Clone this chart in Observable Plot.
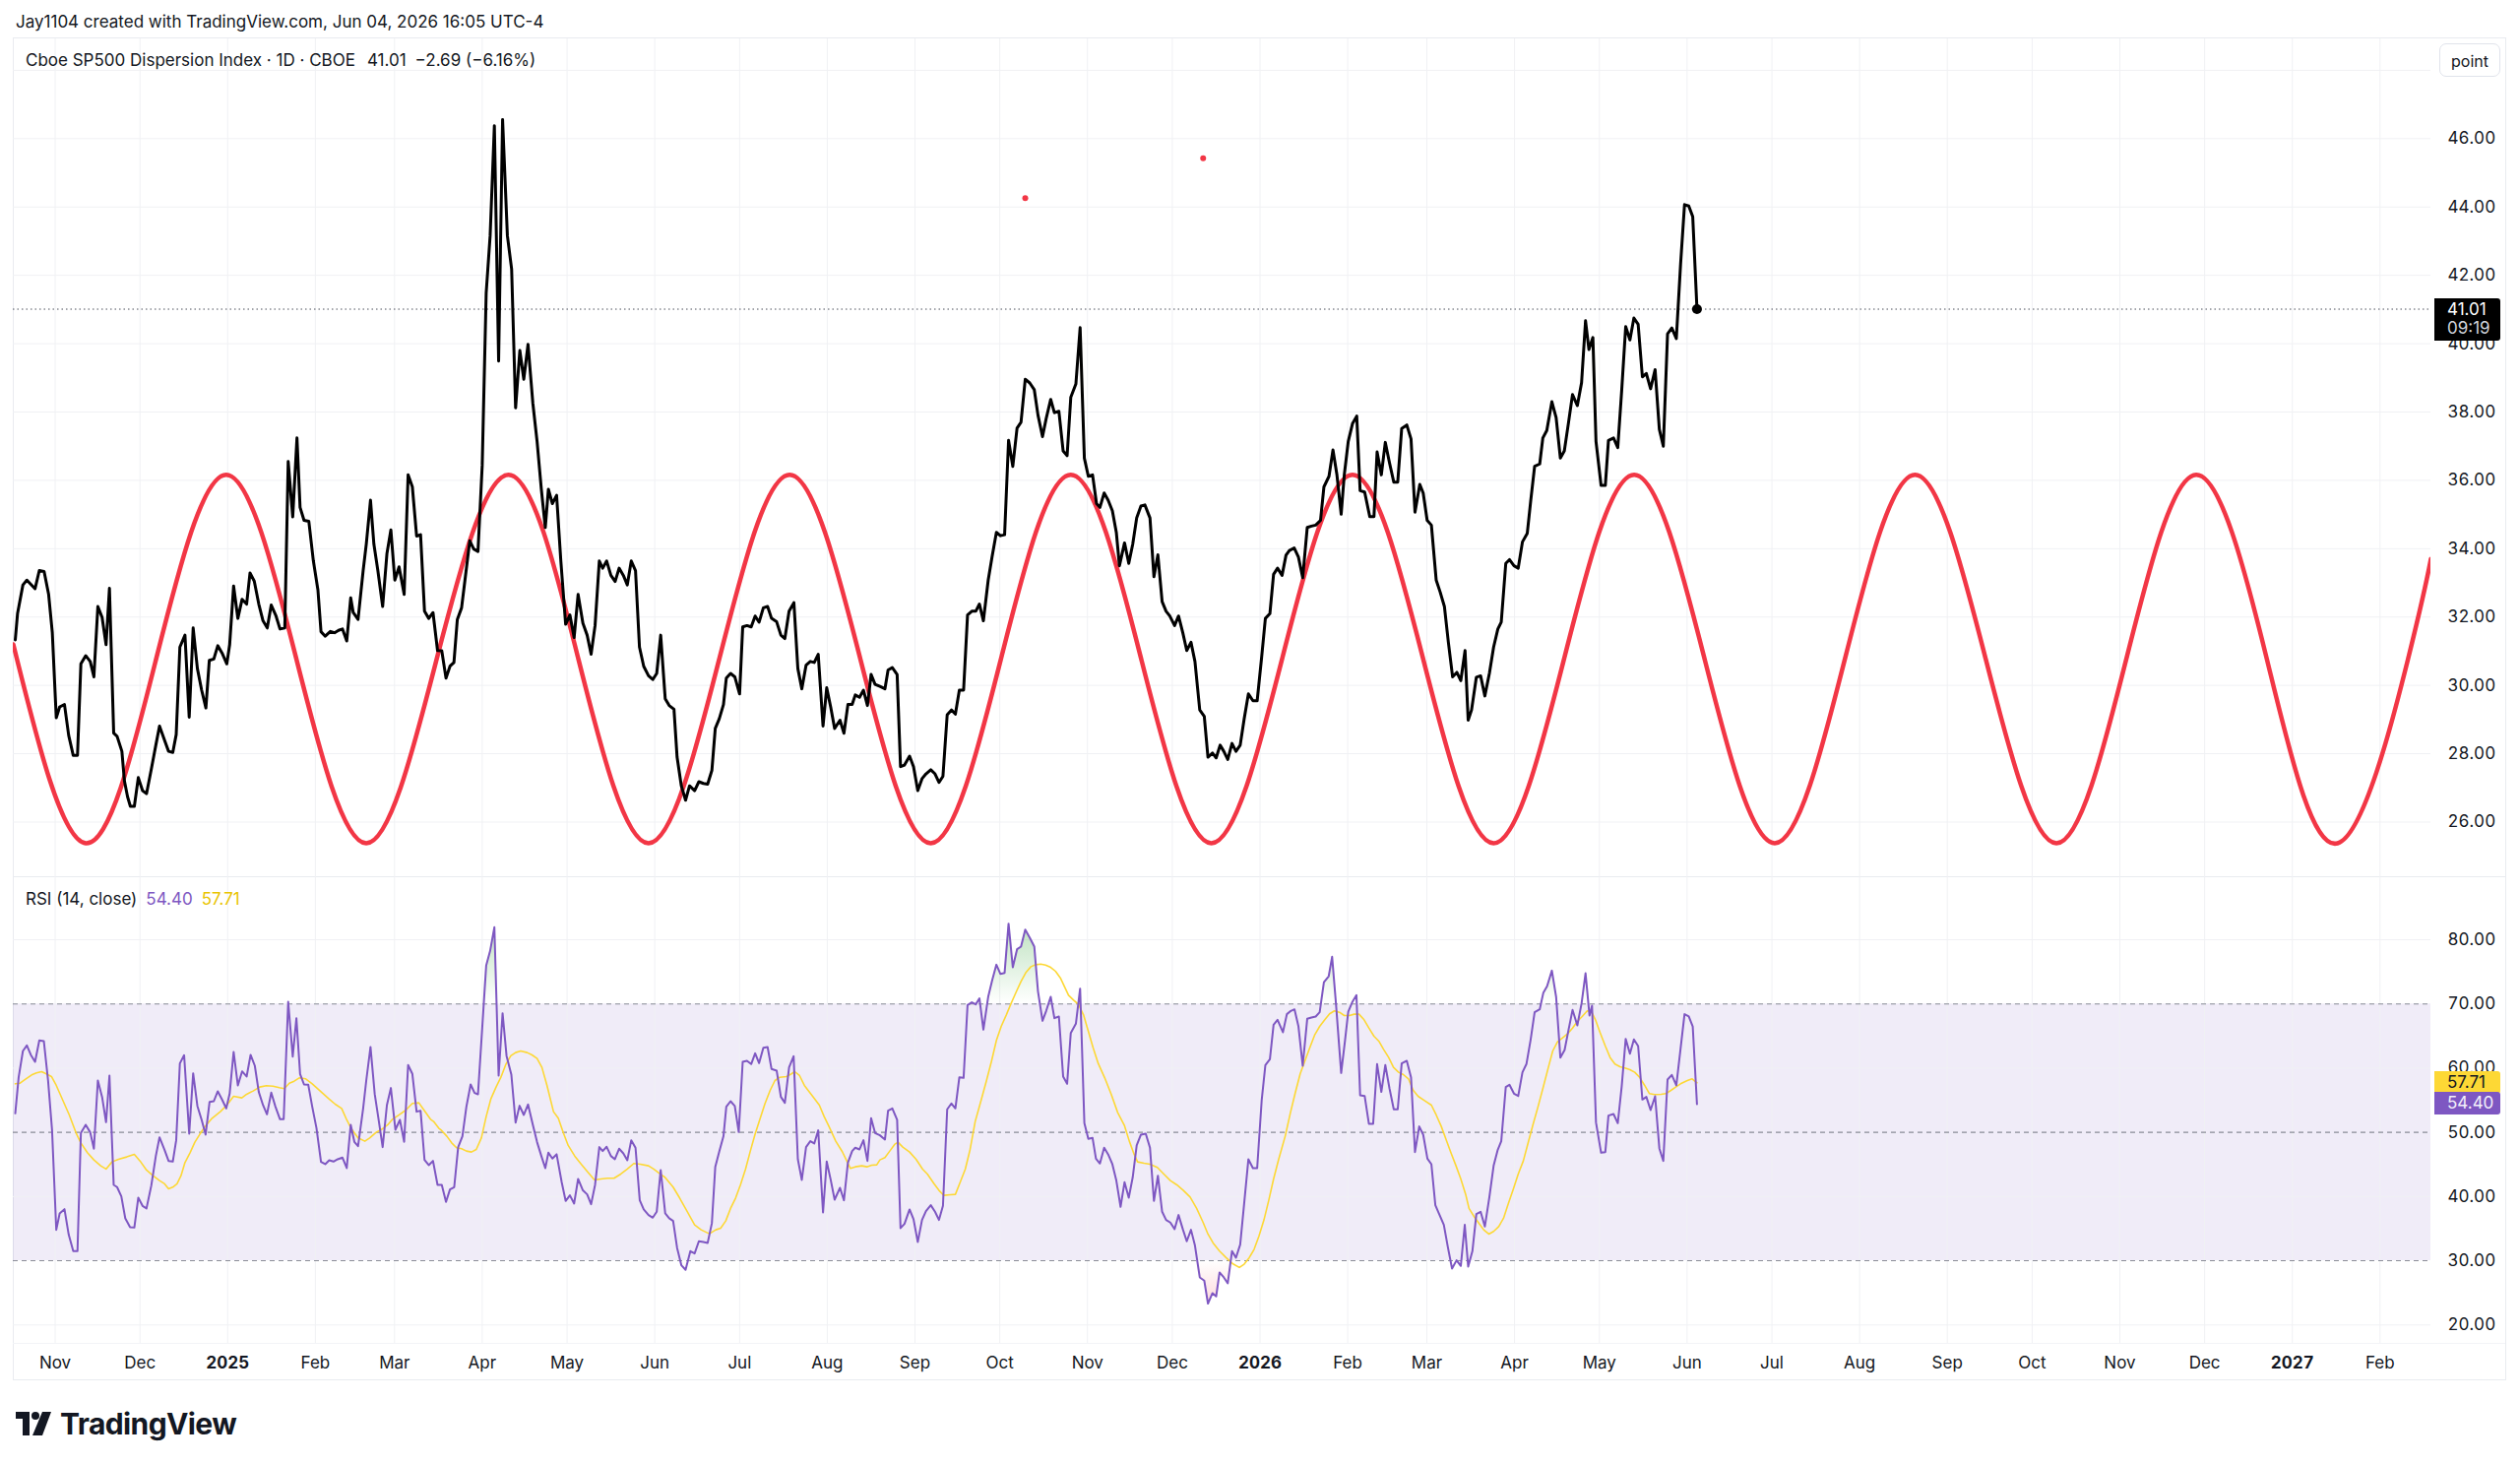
<!DOCTYPE html>
<html>
<head>
<meta charset="utf-8">
<script src="https://cdn.jsdelivr.net/npm/d3@7"></script>
<script src="https://cdn.jsdelivr.net/npm/@observablehq/plot@0.6"></script>
<style>
html, body { margin: 0; padding: 0; background: #ffffff; }
body { width: 2560px; height: 1487px; position: relative; overflow: hidden;
       font-family: Inter, Roboto, "Noto Sans", sans-serif; color: #131722; }
.abs { position: absolute; }
#header { left: 16px; top: 9px; font-size: 17px; line-height: 26px; white-space: nowrap; }
#frame { left: 13px; top: 38px; width: 2531px; height: 1362px; border: 1px solid #e9ebf0; box-sizing: content-box; }
.sep { position: absolute; background: #e9ebf0; }
#legend { left: 26px; top: 48px; font-size: 17px; line-height: 26px; white-space: nowrap; }
#legend .v { margin-left: 9px; }
#rsiLegend { left: 26px; top: 900px; font-size: 17px; line-height: 26px; white-space: nowrap; }
#rsiLegend .v { margin-left: 9px; }
#pointBtn { left: 2478px; top: 44px; width: 62px; height: 34px; border: 1px solid #e0e3eb; border-radius: 7px;
            font-size: 16px; line-height: 34px; text-align: center; background: #fff; box-sizing: border-box; }
.box { position: absolute; left: 2473px; width: 67px; font-size: 17px; padding-left: 13px; box-sizing: border-box;
       border-radius: 0 3px 3px 0; }
#logo { left: 16px; top: 1431px; height: 30px; display: flex; align-items: center; }
#logo span { font-size: 30px; font-weight: 700; letter-spacing: -0.6px; margin-left: 9px; color: #131722; }
</style>
</head>
<body>
<div id="header" class="abs">Jay1104 created with TradingView.com, Jun 04, 2026 16:05 UTC-4</div>
<div id="frame" class="abs"></div>
<div id="mainHost" class="abs" style="left:13px;top:39px;"></div>
<div class="sep" style="left:13px;top:890px;width:2532px;height:1px;"></div>
<div id="rsiHost" class="abs" style="left:13px;top:890px;"></div>
<div class="sep" style="left:13px;top:1364px;width:2532px;height:1px;background:#f3f4f7;"></div>
<div id="legend" class="abs">Cboe SP500 Dispersion Index · 1D · CBOE<span class="v" style="margin-left:12px">41.01</span><span class="v">−2.69 (−6.16%)</span></div>
<div id="rsiLegend" class="abs">RSI (14, close)<span class="v" style="color:#7E57C2">54.40</span><span class="v" style="color:#E9C400">57.71</span></div>
<div id="pointBtn" class="abs">point</div>
<div id="logo" class="abs">
  <svg width="36" height="24" viewBox="0 0 36 24">
    <path d="M0 0 H14 V24 H7 V7 H0 Z" fill="#131722"/>
    <circle cx="20" cy="4" r="4" fill="#131722"/>
    <path d="M27 0 H36 L27 24 H17 Z" fill="#131722"/>
  </svg>
  <span>TradingView</span>
</div>

<script>
// ---------------- DATA ----------------
// All day values are days since DAY0 (2024-11-01, UTC).
const DAY0 = "2024-11-01";

const priceDay = [
-14.1,-13.3,-11.4,-10.0,-7.1,-5.6,-3.9,-2.3,-1.0,0.4,1.6,3.3,4.8,6.4,7.9,9.1,10.8,12.4,13.7,15.1,16.6,18.0,19.2,20.7,21.9,23.6,24.5,25.6,26.6,28.0,
29.4,30.9,32.3,34.0,35.6,36.9,38.7,40.1,41.6,42.8,44.1,45.9,47.4,48.8,50.3,51.8,53.3,54.5,56.1,57.5,59.0,60.7,61.7,63.1,64.6,66.1,67.7,68.9,70.4,72.0,
73.5,75.0,76.4,78.1,79.5,81.2,82.4,84.0,85.5,86.6,88.0,89.7,91.3,92.9,94.0,95.5,97.3,98.8,100.2,101.6,103.1,104.5,105.4,107.1,108.9,110.0,111.5,112.7,114.1,115.8,
117.3,118.7,120.1,121.6,123.4,124.8,126.3,127.8,129.2,130.6,132.1,133.6,
135.2,136.7,138.2,139.6,141.0,142.2,143.7,144.9,146.6,148.0,149.5,151.0,152.4,153.8,155.3,156.8,158.2,159.9,161.4,162.8,164.3,165.7,167.2,168.9,170.4,171.9,173.3,174.4,175.8,177.3,
178.8,180.5,182.0,183.5,184.9,186.6,188.1,189.5,190.9,192.4,193.6,195.0,196.5,198.0,199.4,200.9,202.3,203.7,205.2,206.6,208.1,209.8,211.3,212.7,214.1,215.7,217.1,218.8,219.9,221.4,
222.9,224.3,226.1,227.6,229.2,230.7,232.2,233.4,234.8,236.3,237.3,238.8,240.3,242.0,243.1,244.6,246.1,247.5,248.9,250.4,251.9,253.3,255.1,256.6,258.0,259.5,261.2,262.6,264.0,265.5,
267.0,268.4,269.8,271.5,272.8,274.2,275.6,277.5,278.9,280.3,281.8,282.9,
284.4,285.8,287.2,288.5,289.9,291.6,293.4,294.5,296.0,297.7,298.9,300.3,302.1,303.5,305.0,306.5,307.9,309.6,311.1,312.5,313.9,315.4,316.9,318.3,319.7,321.2,322.6,324.1,325.5,326.8,
328.2,329.9,331.3,332.8,334.2,335.7,337.1,338.6,340.1,341.5,343.0,344.6,346.2,347.5,349.1,350.4,352.0,353.3,354.9,356.4,357.8,359.1,360.9,362.4,363.9,365.3,366.8,368.2,369.4,370.9,
372.3,373.8,375.2,376.3,378.1,379.6,381.0,382.4,383.9,385.3,387.1,388.5,389.9,391.4,392.8,394.1,395.8,397.2,398.7,400.1,401.6,403.0,404.7,406.3,407.6,409.2,410.5,411.9,413.2,414.6,
416.1,417.5,419.0,420.4,421.9,423.5,425.0,426.6,427.9,429.5,430.8,432.2,
433.8,435.2,436.4,438.1,439.6,441.1,442.7,444.2,445.7,447.4,448.6,450.4,451.8,453.2,454.7,455.8,457.2,458.7,460.2,461.4,463.0,464.8,466.3,467.4,468.9,470.3,471.8,473.3,474.7,476.1,
477.9,479.4,480.8,482.5,483.7,485.1,486.6,488.3,489.7,491.2,492.6,494.1,495.6,497.0,498.5,499.6,500.8,502.5,504.0,505.5,507.1,508.6,510.1,511.3,512.9,514.2,515.8,517.3,518.8,520.5,
521.7,523.1,524.9,526.0,527.4,529.2,530.7,532.2,533.6,535.1,536.5,538.2,539.7,541.1,542.3,543.7,544.8,546.6,548.1,549.2,551.0,552.5,553.9,555.3,556.8,558.2,559.7,561.2,562.6,564.1,
565.7,567.2,568.6,570.1,571.6,573.2,574.7,576.1,577.6,579.0,580.5
];
const priceValue = [
31.33,32.10,32.94,33.08,32.83,33.36,33.33,32.66,31.54,29.05,29.37,29.44,28.53,27.95,27.95,30.63,30.87,30.70,30.25,32.31,31.99,31.19,32.84,28.60,28.51,28.07,27.20,26.74,26.46,26.46,
27.30,26.92,26.83,27.55,28.25,28.81,28.39,28.07,28.04,28.56,31.12,31.47,29.07,31.68,30.49,29.86,29.34,30.73,30.77,31.16,30.95,30.63,31.19,32.91,31.96,32.52,32.38,33.29,33.05,32.38,
31.89,31.68,32.35,32.03,31.65,31.68,36.55,34.93,37.24,35.21,34.83,34.80,33.64,32.80,31.57,31.44,31.58,31.54,31.61,31.65,31.30,32.56,32.13,31.93,33.36,34.13,35.42,34.13,33.36,32.31,
33.85,34.55,33.08,33.47,32.66,36.16,35.81,34.37,34.41,32.17,31.96,32.13,
31.02,31.01,30.21,30.56,30.67,31.93,32.27,33.08,34.23,33.99,33.92,36.44,41.48,43.16,46.38,39.49,46.56,43.16,42.18,38.12,39.80,38.96,39.98,38.26,37.14,35.74,34.62,35.74,35.32,35.56,
33.64,31.79,32.06,31.40,32.66,31.82,31.47,30.91,31.75,33.64,33.43,33.64,33.22,33.04,33.43,33.22,32.94,33.64,33.36,31.12,30.56,30.28,30.17,30.35,31.47,29.61,29.41,29.30,27.90,27.06,
26.64,27.06,26.92,27.18,27.13,27.11,27.51,28.74,29.02,29.44,30.21,30.35,30.25,29.75,31.71,31.75,31.71,32.03,31.85,32.27,32.31,31.96,31.86,31.47,31.37,32.17,32.42,30.49,29.90,30.59,
30.70,30.67,30.91,28.81,29.93,29.37,28.74,28.98,28.60,29.44,29.44,29.72,
29.65,29.86,29.41,30.32,30.03,29.97,29.90,30.45,30.52,30.32,27.62,27.67,27.93,27.62,26.92,27.27,27.41,27.53,27.41,27.16,27.34,29.14,29.28,29.16,29.86,29.86,32.06,32.17,32.17,32.38,
31.89,33.08,33.78,34.48,34.38,34.41,37.17,36.41,37.53,37.70,38.96,38.85,38.65,37.91,37.28,37.81,38.37,37.98,38.02,36.86,36.72,38.43,38.82,40.47,36.65,36.12,36.16,35.32,35.21,35.63,
35.42,35.11,34.48,33.50,34.17,33.57,34.13,34.90,35.25,35.28,34.90,33.18,33.82,32.45,32.17,32.03,31.75,32.03,31.54,31.02,31.26,30.70,29.28,29.09,27.90,28.02,27.88,28.25,28.07,27.83,
28.30,28.07,28.25,29.02,29.75,29.55,29.55,30.84,31.96,32.10,33.25,33.43,
33.22,33.81,33.95,34.02,33.75,33.15,34.62,34.66,34.69,34.83,35.81,36.12,36.89,36.16,35.01,36.16,37.14,37.66,37.88,35.70,35.66,34.94,34.94,36.83,36.16,37.11,36.51,35.95,35.95,37.52,
37.62,37.21,35.07,35.88,35.63,34.83,34.69,33.08,32.73,32.31,31.26,30.25,30.38,30.14,31.02,28.98,29.28,30.24,30.28,29.69,30.35,31.12,31.65,31.85,33.57,33.68,33.50,33.43,34.20,34.45,
35.39,36.41,36.48,37.24,37.46,38.30,37.84,36.65,36.86,37.70,38.51,38.19,38.86,40.67,39.83,40.18,37.14,35.85,35.85,37.17,37.24,36.96,38.65,40.50,40.11,40.75,40.57,39.03,39.13,38.68,
39.24,37.49,37.00,40.29,40.46,40.15,42.32,44.07,44.03,43.72,41.01
];

// red wave drawing: read turning points and mid crossings
const waveDay = [-14.8,10.8,35.7,60.5,85.3,110.0,134.9,160.3,185.0,209.8,234.8,259.7,284.7,309.6,334.4,359.1,384.0,408.8,433.8,458.7,
483.7,508.6,533.5,558.3,583.2,608.0,632.8,657.6,682.6,707.6,732.3,757.0,782.0,807.0,831.9,840.0];
const waveValue = [31.2,25.38,30.77,36.16,30.77,25.38,30.77,36.16,30.77,25.38,30.77,36.16,30.77,25.38,30.77,36.16,30.77,25.38,30.77,36.16,
30.77,25.38,30.77,36.16,30.77,25.38,30.77,36.16,30.77,25.38,30.77,36.16,30.77,25.38,30.77,33.7];

// two small red point markers
const markerDay = [343.0, 405.9];
const markerValue = [44.26, 45.43];

const lastPrice = 41.01;
const lastTime = "09:19";

const rsiDay = [
-14.1,-12.9,-11.4,-10.0,-8.6,-7.1,-5.6,-4.0,-2.5,-1.1,0.4,1.6,3.3,4.8,6.4,7.9,9.1,10.8,12.4,13.7,15.1,16.6,18.0,19.2,20.7,21.9,23.4,24.8,26.5,28.0,
29.4,30.9,32.3,34.0,35.6,36.9,38.7,40.1,41.6,42.8,44.1,45.6,47.4,48.8,50.3,51.8,53.2,54.6,56.1,57.5,59.0,60.5,61.7,63.1,64.6,66.1,67.7,69.1,70.6,72.0,
73.5,74.9,76.4,77.9,79.5,80.8,82.4,84.0,85.3,86.6,88.0,89.5,90.9,92.4,94.0,95.5,96.9,98.4,99.9,101.6,103.1,104.5,105.8,107.1,108.9,110.0,111.5,113.0,114.3,115.8,
117.3,118.7,120.3,121.9,123.4,124.8,126.3,127.8,129.2,130.6,132.1,133.6,
135.2,136.7,138.2,139.6,141.1,142.5,144.0,145.4,146.9,148.3,149.5,151.0,152.4,153.8,155.3,156.8,158.2,159.6,161.3,162.8,164.2,165.7,167.2,168.9,170.4,171.9,173.3,174.4,175.8,177.3,
179.1,180.5,182.0,183.5,184.9,186.6,188.1,189.5,190.9,192.4,193.6,195.0,196.5,197.9,199.4,200.9,202.3,203.7,205.2,206.7,208.1,209.8,211.3,212.7,214.1,215.7,217.1,218.5,219.9,221.4,
222.9,224.6,226.1,227.6,229.2,230.7,232.2,233.4,234.8,236.3,237.3,238.8,240.3,241.7,243.1,244.6,246.1,247.5,248.9,250.4,251.9,253.3,255.1,256.6,258.0,259.5,261.1,262.6,264.0,265.5,
267.0,268.4,269.8,271.5,272.8,274.2,275.6,277.5,278.9,280.3,281.8,282.9,
284.4,285.8,287.2,288.5,289.9,291.6,293.4,294.5,296.0,297.7,298.9,300.3,302.1,303.5,305.0,306.5,307.9,309.6,311.1,312.5,313.9,315.4,316.9,318.3,319.7,321.2,322.6,324.1,325.5,326.8,
328.2,329.9,331.3,332.8,334.2,335.7,337.1,338.6,340.1,341.5,343.0,344.6,346.2,347.5,349.1,350.4,352.0,353.3,354.9,356.4,357.8,359.1,360.9,362.4,363.9,365.3,366.8,368.0,369.4,370.9,
372.3,373.8,375.2,376.7,378.1,379.6,381.0,382.4,383.9,385.6,387.1,388.5,389.9,391.4,392.8,394.3,395.8,397.2,398.7,400.1,401.6,403.0,404.7,406.3,407.6,409.2,410.5,411.7,413.2,414.6,
416.1,417.5,419.0,420.4,421.9,423.5,425.0,426.6,427.9,429.5,430.8,432.2,
434.1,435.5,436.9,438.2,439.6,441.1,442.7,444.2,445.7,447.1,448.6,450.3,451.5,452.9,454.7,456.1,457.2,458.7,460.1,461.4,463.0,464.5,466.0,467.4,468.9,470.3,471.8,473.3,474.7,476.1,
477.9,479.4,480.8,482.3,483.7,485.2,486.6,488.0,489.5,491.0,492.4,493.9,495.5,497.0,498.4,499.6,501.1,502.5,504.0,505.5,507.1,508.6,510.0,511.3,512.9,514.2,515.8,517.3,518.8,520.2,
521.7,523.1,524.9,526.2,527.5,529.2,530.7,532.2,533.7,535.1,536.5,538.2,539.7,541.1,542.5,543.4,544.8,546.6,548.1,549.2,551.0,552.5,553.9,555.3,556.8,558.2,559.7,561.2,562.6,564.1,
565.7,567.2,568.6,570.1,571.6,573.2,574.7,576.1,577.6,579.0,580.5
];
const rsiValue = [
52.96,58.58,62.67,63.54,62.06,60.99,64.31,64.21,58.07,50.41,34.82,37.38,38.04,34.06,31.50,31.50,49.90,51.18,50.00,47.45,58.07,55.52,51.58,58.84,41.82,41.47,40.04,36.61,35.23,35.18,
39.83,38.55,38.15,41.72,46.32,49.23,47.24,45.55,45.45,48.77,60.73,62.01,49.80,59.20,54.09,51.94,49.64,54.75,54.85,56.39,55.11,53.73,56.03,62.52,57.31,59.50,58.69,62.06,60.37,56.29,
54.24,52.81,56.18,53.99,52.04,52.04,70.34,61.80,67.78,59.10,57.46,57.41,53.99,50.66,45.40,45.04,45.66,45.45,45.81,46.07,44.43,51.18,48.52,47.85,53.73,58.07,63.29,55.93,52.20,47.70,
54.24,56.90,50.41,51.94,48.52,60.48,59.10,53.22,53.37,45.71,44.89,45.55,
41.82,41.82,39.17,41.11,41.47,47.70,49.39,53.99,57.46,56.13,55.93,66.25,75.96,78.26,81.94,58.84,68.55,61.91,58.99,51.53,54.14,52.71,54.34,51.18,48.47,46.32,44.43,46.83,45.91,46.58,
42.23,39.32,40.19,38.91,42.74,40.96,40.34,38.81,41.82,47.70,47.09,47.75,46.32,45.81,47.45,46.73,45.66,48.77,47.60,39.42,37.99,37.12,36.71,37.63,44.12,37.38,36.61,36.20,32.01,29.31,
28.59,31.50,31.14,33.04,32.93,32.78,35.85,44.63,46.99,49.39,53.99,54.85,54.09,50.05,60.99,61.14,60.63,62.31,60.78,63.18,63.29,59.86,59.61,55.52,54.60,60.12,61.85,45.81,42.59,47.70,
48.62,48.26,50.31,37.53,45.45,42.64,39.52,41.36,39.42,45.30,47.09,47.60,
47.34,48.77,45.55,52.20,49.90,49.54,48.88,53.37,53.73,51.94,35.08,35.74,37.99,36.46,32.93,36.36,37.74,38.66,37.63,36.36,38.55,53.58,54.50,53.73,58.58,58.48,69.83,70.24,69.93,70.85,
65.99,71.10,73.66,76.11,74.68,74.83,82.50,75.70,78.51,78.92,81.58,80.30,78.92,71.97,67.37,68.91,71.10,67.78,68.04,58.69,57.56,65.48,66.91,72.38,51.43,48.98,49.13,45.91,45.15,47.60,
46.58,45.04,42.49,38.40,42.23,39.83,43.00,47.96,49.64,49.80,47.60,39.32,43.25,37.63,36.36,35.95,34.93,37.12,34.93,33.04,34.82,32.37,27.41,26.90,23.33,24.96,24.45,28.18,27.41,26.49,
31.50,30.48,32.52,38.91,45.81,44.43,44.43,55.01,60.48,61.40,66.76,67.53,
65.59,68.40,68.91,69.16,66.50,60.37,67.68,67.88,68.04,68.70,73.40,74.32,77.34,69.83,59.25,64.46,68.80,70.34,71.36,55.77,55.67,51.33,51.33,60.63,56.29,60.48,56.80,53.58,53.58,60.73,
61.14,58.58,46.93,50.92,49.64,45.91,45.04,38.66,37.12,35.59,32.17,28.79,30.07,29.20,35.59,29.10,31.50,37.28,37.63,35.33,39.93,44.79,47.19,48.62,57.05,57.41,56.03,55.67,59.35,60.63,
64.46,68.70,69.16,71.77,72.74,75.19,71.10,61.65,62.83,65.99,69.06,66.66,70.08,74.78,68.19,69.72,51.53,46.83,46.93,52.61,52.86,51.43,57.20,64.56,62.26,64.46,63.44,55.11,55.52,53.47,
55.62,47.50,45.55,58.23,58.94,57.31,63.03,68.40,68.04,66.50,54.40
];

const maDay = [
-14.1,-12.4,-10.6,-8.3,-6.6,-4.8,-3.1,-1.3,0.4,2.7,5.0,7.4,9.1,11.4,13.7,16.1,18.0,20.1,22.4,25.3,28.0,30.0,32.3,34.6,36.9,38.7,40.1,41.6,43.1,44.5,
45.9,47.7,49.4,51.2,53.2,55.5,58.4,60.7,63.1,66.0,67.7,70.0,72.3,74.7,77.0,79.3,81.0,82.8,84.5,86.3,88.6,90.9,93.8,96.7,99.0,101.3,103.1,104.8,107.1,109.5,
111.2,113.5,115.8,117.6,119.3,121.6,124.0,126.3,128.6,130.4,132.7,
133.8,135.6,136.7,138.5,140.2,141.9,143.7,145.4,147.2,148.9,150.7,152.4,154.1,155.9,157.6,159.4,161.1,162.8,164.6,166.9,168.6,170.4,172.1,173.9,176.2,177.9,179.7,181.4,183.7,186.0,
188.4,190.7,193.0,195.3,197.6,200.0,202.3,204.6,206.9,209.8,211.6,213.9,215.6,218.5,220.8,223.2,226.1,228.4,231.3,233.6,235.3,237.1,238.8,240.6,242.3,244.1,245.8,247.5,249.3,251.0,
252.8,254.5,256.2,258.6,260.3,261.5,263.2,264.9,267.3,270.2,271.9,273.6,276.0,278.3,281.2,282.9,
285.2,287.0,288.7,290.5,291.6,293.4,295.1,296.8,298.0,299.7,302.1,304.4,306.7,308.4,310.8,312.5,314.2,316.6,318.3,320.0,321.8,323.5,325.3,327.4,329.3,331.1,332.8,334.5,336.3,338.0,
339.8,341.5,343.3,345.0,346.7,348.5,350.2,352.0,353.7,355.4,357.2,358.3,360.1,361.8,363.6,365.3,367.0,368.8,371.1,373.4,375.7,378.1,379.8,381.5,382.7,385.0,387.1,389.7,392.0,394.3,
396.6,398.9,401.3,403.6,405.9,407.6,409.4,411.7,414.0,416.3,418.7,420.4,422.2,423.9,425.6,427.4,429.1,430.8,432.6,
434.9,436.7,438.4,440.2,441.9,443.6,445.4,447.1,448.9,450.6,452.3,454.1,455.8,457.6,459.3,461.0,462.8,464.5,466.3,468.0,469.7,471.5,473.2,475.0,476.7,478.5,480.2,481.9,484.3,486.6,
488.3,490.1,491.8,493.5,495.3,497.0,498.8,499.9,501.7,503.4,505.1,506.9,508.6,510.4,512.1,513.8,515.6,517.3,519.1,520.8,522.5,524.3,526.0,527.8,529.5,531.2,533.0,534.7,536.5,538.2,
539.9,541.7,543.2,544.6,546.3,548.1,549.8,551.5,553.3,555.0,556.8,558.5,560.2,562.0,563.7,565.5,567.8,569.5,571.3,573.0,574.7,577.1,578.8,580.5
];
const maValue = [
57.56,57.66,58.23,58.94,59.25,59.45,59.10,58.69,57.31,55.01,52.71,49.90,48.36,46.83,45.71,44.79,44.28,45.40,45.81,46.17,46.58,45.55,44.12,43.25,42.49,41.98,41.21,41.47,41.98,43.25,
45.30,46.83,48.47,49.74,51.02,52.20,53.22,54.24,55.62,55.37,55.93,56.44,57.05,57.26,57.20,56.95,56.80,57.66,57.97,58.48,58.33,57.56,56.39,55.26,54.39,53.73,51.94,50.51,49.13,48.62,
49.13,50.00,50.56,51.18,52.04,52.71,53.47,54.50,54.60,53.47,52.04,
51.69,50.66,50.26,49.39,48.36,47.60,47.45,47.09,46.93,47.34,49.13,52.45,55.26,57.05,58.58,60.63,61.91,62.42,62.67,62.42,62.06,61.50,60.12,57.31,53.22,52.20,49.90,47.96,46.32,45.04,
43.77,42.59,42.74,42.85,42.85,43.51,44.28,45.15,45.04,44.79,44.28,43.51,43.00,41.47,39.78,37.89,35.59,34.82,34.21,34.82,35.08,36.20,38.15,39.78,41.82,44.28,47.09,49.74,52.20,54.50,
56.54,58.07,58.58,58.69,59.10,59.45,58.84,57.31,55.93,54.24,52.45,50.92,48.62,46.99,44.38,44.63,
44.79,44.63,44.89,44.94,45.71,46.07,47.09,48.11,48.47,47.70,46.93,45.81,44.28,43.51,41.98,40.96,40.19,40.29,40.34,42.23,44.28,47.34,51.69,55.01,58.07,61.14,64.31,66.51,68.29,70.08,
71.87,73.51,74.94,75.80,76.11,76.21,76.06,75.70,75.09,74.07,72.38,71.36,70.59,69.93,68.29,65.74,63.18,60.73,58.48,55.93,53.07,51.02,48.62,46.58,45.40,45.20,45.04,44.53,43.51,42.49,
41.82,40.96,39.93,38.15,35.95,34.16,32.78,31.50,30.48,29.56,28.95,29.46,30.48,31.76,33.80,36.36,39.42,42.74,45.81,
49.39,52.96,56.03,59.10,61.14,63.18,65.23,66.50,67.53,68.45,68.91,68.70,68.19,68.19,68.40,68.40,67.53,66.25,64.97,64.21,62.93,61.65,60.12,59.35,58.99,58.33,56.54,55.62,54.91,54.24,
52.71,50.92,48.88,46.83,44.79,42.74,40.19,38.15,36.87,35.85,34.82,34.16,34.57,35.33,36.61,38.91,41.21,43.51,45.55,48.36,51.18,53.99,56.80,59.86,62.67,64.10,64.72,65.33,66.25,67.27,
68.04,68.91,68.80,67.53,65.48,63.44,61.65,60.63,60.22,60.02,59.76,59.35,58.58,57.31,56.03,55.88,55.93,56.03,56.54,57.05,57.56,58.07,58.33,57.71
];

const monthTicks = ["2024-11-01","2024-12-01","2025-01-01","2025-02-01","2025-03-01","2025-04-01","2025-05-01","2025-06-01",
  "2025-07-01","2025-08-01","2025-09-01","2025-10-01","2025-11-01","2025-12-01","2026-01-01","2026-02-01","2026-03-01",
  "2026-04-01","2026-05-01","2026-06-01","2026-07-01","2026-08-01","2026-09-01","2026-10-01","2026-11-01","2026-12-01",
  "2027-01-01","2027-02-01"];
const priceTicks = [26, 28, 30, 32, 34, 36, 38, 40, 42, 44, 46];
const priceGrid = [26, 28, 30, 32, 34, 36, 38, 40, 42, 44, 46, 48];
const rsiTicks = [20, 30, 40, 50, 60, 70, 80];
const rsiLevels = [30, 50, 70];
const rsiLast = 54.40, maLast = 57.71;

// ---------------- CHART ----------------
const t0 = Date.parse(DAY0 + "T00:00:00Z");
const toDate = d => new Date(t0 + d * 864e5);
const zip = (days, vals) => days.map((d, i) => ({date: toDate(d), v: vals[i]}));

const price = zip(priceDay, priceValue);
const wave = zip(waveDay, waveValue);
const markers = zip(markerDay, markerValue);
const rsi = zip(rsiDay, rsiValue);
const ma = zip(maDay, maValue);
const months = monthTicks.map(s => new Date(s + "T00:00:00Z"));

const W = 2532, RIGHT = 76;
const xDomain = [toDate(-14.8), toDate(840)];
const GRID = "#f0f1f4", TEXT = "#131722", RED = "#F23645", PURPLE = "#7E57C2", YELLOW = "#FDD835";
const FONT = "Inter, Roboto, sans-serif";

const mainPlot = Plot.plot({
  width: W, height: 851,
  marginLeft: 0, marginRight: RIGHT, marginTop: 0, marginBottom: 0,
  x: {type: "utc", domain: xDomain, axis: null},
  y: {domain: [24.40, 48.92], axis: null},
  style: {fontFamily: FONT, background: "transparent", overflow: "visible", color: TEXT},
  marks: [
    Plot.gridX(months, {stroke: GRID, strokeOpacity: 1}),
    Plot.gridY(priceGrid, {stroke: GRID, strokeOpacity: 1}),
    Plot.axisY(priceTicks, {anchor: "right", label: null, tickSize: 0, tickPadding: 17, fontSize: 17, fill: TEXT,
      tickFormat: d => d.toFixed(2)}),
    Plot.ruleY([lastPrice], {stroke: "#4a4e59", strokeWidth: 1, strokeDasharray: "1.5,3"}),
    Plot.line(wave, {x: "date", y: "v", curve: "natural", stroke: RED, strokeWidth: 4.5, clip: true}),
    Plot.line(price, {x: "date", y: "v", stroke: "#000", strokeWidth: 3, strokeLinejoin: "round", clip: true}),
    Plot.dot(markers, {x: "date", y: "v", r: 3, fill: RED}),
    Plot.dot(price.slice(-1), {x: "date", y: "v", r: 5, fill: "#000"})
  ]
});
document.getElementById("mainHost").appendChild(mainPlot);

const rsiPlot = Plot.plot({
  width: W, height: 511,
  marginLeft: 0, marginRight: RIGHT, marginTop: 0, marginBottom: 37,
  x: {type: "utc", domain: xDomain, axis: null},
  y: {domain: [17.13, 89.81], axis: null},
  style: {fontFamily: FONT, background: "transparent", overflow: "visible", color: TEXT},
  marks: [
    Plot.rect([{a: xDomain[0], b: xDomain[1]}], {x1: "a", x2: "b", y1: rsiLevels[0], y2: rsiLevels[2],
      fill: PURPLE, fillOpacity: 0.115}),
    Plot.gridX(months, {stroke: GRID, strokeOpacity: 1}),
    Plot.gridY(rsiTicks.filter(t => !rsiLevels.includes(t)), {stroke: GRID, strokeOpacity: 1}),
    Plot.ruleY(rsiLevels, {stroke: "#787b86", strokeOpacity: 0.85, strokeWidth: 1.1, strokeDasharray: "5,4"}),
    Plot.areaY(rsi, {x: "date", y1: rsiLevels[2], y2: d => Math.max(rsiLevels[2], d.v), fill: "url(#obGrad)", clip: true}),
    Plot.areaY(rsi, {x: "date", y1: d => Math.min(rsiLevels[0], d.v), y2: rsiLevels[0], fill: "url(#osGrad)", clip: true}),
    Plot.line(ma, {x: "date", y: "v", stroke: YELLOW, strokeWidth: 1.6, curve: "linear", clip: true}),
    Plot.line(rsi, {x: "date", y: "v", stroke: PURPLE, strokeWidth: 2, strokeLinejoin: "round", clip: true}),
    Plot.axisY(rsiTicks, {anchor: "right", label: null, tickSize: 0, tickPadding: 17, fontSize: 17, fill: TEXT,
      tickFormat: d => d.toFixed(2)}),
    Plot.axisX(months.filter(d => d.getUTCMonth() !== 0), {anchor: "bottom", label: null, tickSize: 0, tickPadding: 13,
      fontSize: 17, fill: TEXT, tickFormat: d3.utcFormat("%b")}),
    Plot.axisX(months.filter(d => d.getUTCMonth() === 0), {anchor: "bottom", label: null, tickSize: 0, tickPadding: 13,
      fontSize: 17, fontWeight: "bold", fill: TEXT, tickFormat: d3.utcFormat("%Y")})
  ]
});
document.getElementById("rsiHost").appendChild(rsiPlot);

// gradients for overbought / oversold fills
const ry = rsiPlot.scale("y");
const defs = d3.select(rsiPlot).insert("defs", ":first-child");
const ob = defs.append("linearGradient").attr("id", "obGrad").attr("gradientUnits", "userSpaceOnUse")
  .attr("x1", 0).attr("x2", 0).attr("y1", ry.apply(82)).attr("y2", ry.apply(70));
ob.append("stop").attr("offset", 0).attr("stop-color", "#4CAF50").attr("stop-opacity", 0.35);
ob.append("stop").attr("offset", 1).attr("stop-color", "#4CAF50").attr("stop-opacity", 0.0);
const os = defs.append("linearGradient").attr("id", "osGrad").attr("gradientUnits", "userSpaceOnUse")
  .attr("x1", 0).attr("x2", 0).attr("y1", ry.apply(30)).attr("y2", ry.apply(22));
os.append("stop").attr("offset", 0).attr("stop-color", RED).attr("stop-opacity", 0.0);
os.append("stop").attr("offset", 1).attr("stop-color", RED).attr("stop-opacity", 0.22);

// value labels on the scales
const my = mainPlot.scale("y");
function addBox(top, height, bg, html, color) {
  const el = document.createElement("div");
  el.className = "box";
  el.style.top = top + "px";
  el.style.height = height + "px";
  el.style.background = bg;
  el.style.color = color;
  el.innerHTML = html;
  document.body.appendChild(el);
  return el;
}
const py = 39 + my.apply(lastPrice);
addBox(py - 11, 43, "#000",
  `<div style="line-height:19px;padding-top:2px">${lastPrice.toFixed(2)}</div><div style="line-height:19px;color:#d1d4dc">${lastTime}</div>`, "#fff");
const maY = 890 + ry.apply(maLast);
addBox(maY - 11.5, 23, YELLOW, `<div style="line-height:23px">${maLast.toFixed(2)}</div>`, TEXT);
const rY = 890 + ry.apply(rsiLast);
addBox(rY - 11.5, 23, PURPLE, `<div style="line-height:23px">${rsiLast.toFixed(2)}</div>`, "#f3effa");
</script>
</body>
</html>
